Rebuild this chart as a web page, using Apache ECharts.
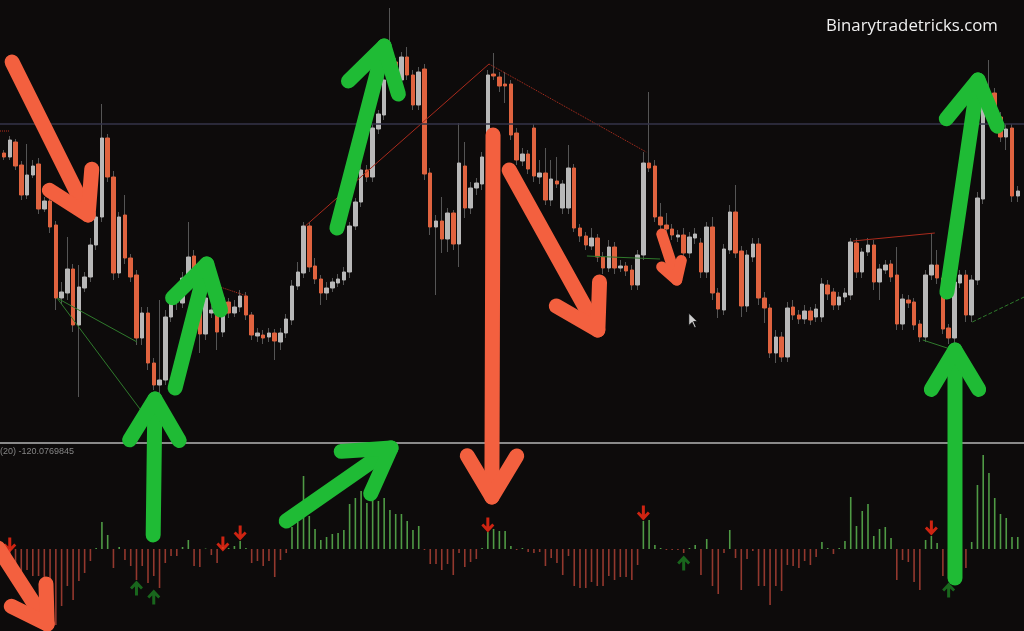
<!DOCTYPE html>
<html><head><meta charset="utf-8">
<script src="https://cdn.jsdelivr.net/npm/echarts@6/dist/echarts.min.js"></script>
<style>html,body{margin:0;padding:0;background:#0d0b0b;}#c{width:1024px;height:631px;}</style>
</head><body><div id="c"></div>
<script>
// OHLC candles: [open, close, low, high]
const candles = [
[297,293,290,300],[293,310,290,314],[308,284,280,311],[285,255,250,289],[255,275,251,306],
[275,284,272,290],[286,241,236,292],[241,249,238,253],[249,223,217,254],[225,152,140,229],
[152,158,146,168],[157,181,150,213],[181,125,118,186],[125,163,53,185],[162,173,158,178],
[173,205,168,212],[205,233,200,238],[233,312,228,346],[312,273,268,316],[273,177,170,279],
[177,233,172,238],[235,192,186,255],[192,173,168,196],[175,112,105,180],[112,137,105,143],
[137,87,80,143],[87,65,60,92],[65,70,57,150],[70,133,65,140],[133,150,128,158],
[148,152,140,158],[147,172,142,178],[172,193,168,228],[194,177,172,200],[177,116,97,180],
[116,152,110,158],[137,140,132,145],[137,118,100,142],[118,152,113,158],[148,137,132,152],
[137,143,133,150],[143,154,138,160],[154,135,130,158],[135,115,110,138],[114,117,108,122],
[115,112,106,120],[113,117,108,122],[117,109,90,121],[108,117,100,122],[117,131,112,136],
[130,164,125,170],[164,178,160,188],[177,224,172,228],[224,183,178,228],[184,171,166,192],
[171,157,145,175],[157,162,150,168],[162,168,158,172],[167,171,163,176],[170,178,165,183],
[178,224,172,228],[224,248,220,252],[248,280,243,288],[280,273,268,285],[273,322,268,326],
[321,336,316,340],[335,370,330,376],[370,388,366,442],[388,370,364,392],[370,393,366,398],
[393,375,370,403],[375,345,340,380],[345,378,340,383],[381,276,270,386],[277,223,215,282],
[223,229,155,235],[229,211,197,253],[211,237,198,242],[237,206,200,240],[206,287,183,327],
[284,242,232,308],[242,262,236,268],[262,267,255,272],[266,293,260,298],[293,375,288,380],
[376,374,370,397],[373,364,358,378],[366,364,347,378],[366,315,310,370],[317,290,285,322],
[289,296,284,302],[296,281,276,300],[322,274,268,326],[273,277,266,290],[277,250,245,302],
[250,271,244,290],[269,266,262,293],[242,266,236,270],[242,282,236,305],[282,222,218,286],
[222,214,208,226],[214,205,200,218],[204,212,200,222],[212,193,188,216],[193,182,176,198],
[182,203,178,210],[203,182,176,208],[182,184,178,190],[184,179,174,188],[180,165,160,185],
[165,195,160,200],[195,287,190,298],[287,282,278,358],[284,233,228,290],[233,225,220,247],
[225,221,216,237],[221,215,210,226],[213,215,208,220],[215,197,192,222],[197,213,192,218],
[212,216,206,222],[207,178,172,212],[178,223,172,228],[223,157,150,233],[157,141,132,162],
[140,201,135,206],[200,238,196,245],[238,197,192,265],[199,144,133,204],[144,195,138,200],
[193,206,188,212],[206,152,145,212],[152,142,127,158],[142,97,92,146],[97,113,87,120],
[113,93,88,118],[93,142,88,148],[143,135,130,150],[135,131,126,140],[131,139,126,145],
[139,130,125,143],[133,141,128,146],[133,166,128,172],[165,156,150,170],[158,145,140,162],
[145,153,140,158],[153,157,148,162],[155,208,150,212],[207,178,172,212],[178,198,172,202],
[198,205,194,212],[205,168,160,210],[168,181,150,186],[180,185,176,190],[186,173,168,190],
[175,126,120,203],[126,151,120,156],[150,147,142,155],[148,125,120,152],[126,113,108,130],
[113,175,108,180],[175,185,170,217],[185,172,166,200],[172,121,116,176],[122,112,106,126],
[112,168,106,174],[167,175,162,180],[175,135,128,180],[135,170,128,175],[170,252,165,258],
[251,357,246,362],[353,357,348,390],[357,333,328,362],[333,313,308,338],[313,321,300,326],
[322,254,248,326],[254,259,248,264]
];
// oscillator histogram, one value per candle
const histogram = [
-8,-10,-14,-27,-21,-27,-27,-37,-51,-76,-57,-37,-51,-32,-24,-12,1,27,14,-19,
2,-11,-17,-31,-17,-34,-27,-39,-14,-7,-7,2,9,-17,-18,0.5,-6,-14,2,1,
3,8,1,-14,-12,-17,-12,-28,-11,-4,22,27,73,33,20,9,12,15,16,19,
45,51,58,46,54,48,51,39,35,35,28,19,23,-1,-15,-15,-21,-15,-26,-4,
-18,-13,-10,1,17,20,18,18,3,-1,1,-3,-4,-3,-17,-9,-14,-26,-7,-37,
-39,-39,-33,-37,-37,-27,-31,-28,-28,-31,-16,28,29,4,1,-1,-1,-1,-4,1,
4,-26,10,-37,-45,-4,19,-9,-41,-10,-2,-37,-37,-56,-37,-42,-16,-17,-19,-12,
-16,-8,7,1,-5,1,8,52,23,38,45,13,20,22,11,-31,-11,-13,-33,-41,
9,13,6,-27,-30,-10,8,-19,7,64,94,76,51,35,31,12,12
];
// indicator signal markers [candle index, histogram value]
const signalsDown = [[1,4],[38,5],[41,16],[84,24],[111,36],[161,21]];
const signalsUp = [[23,-39],[26,-48],[118,-14],[164,-41]];
// drawn trend lines [[x1,p1],[x2,p2]], style
const trendLines = [
  {pts:[[9.2,152],[23.1,108]], color:'#2f7a2c', type:'solid'},
  {pts:[[9.2,152],[24.0,38]], color:'#2f7a2c', type:'solid'},
  {pts:[[52.3,224],[84.2,386]], color:'#a92a1c', type:'solid'},
  {pts:[[84.2,386],[111.5,298]], color:'#b8301f', type:'dotted'},
  {pts:[[37,164],[42.2,154]], color:'#b8301f', type:'dotted'},
  {pts:[[-0.7,319],[0.9,319]], color:'#b8301f', type:'dotted'},
  {pts:[[101.2,194],[113.9,191]], color:'#2f7a2c', type:'solid'},
  {pts:[[147.4,209],[161.6,217]], color:'#a92a1c', type:'solid'},
  {pts:[[159.5,110],[164.8,100]], color:'#2f7a2c', type:'solid'},
  {pts:[[168.1,128],[177.1,153]], color:'#2f7a2c', type:'dashed'}
];
// hand-drawn arrows [tailX, tailP, tipX, tipP, headLen, width, kind]
const bigArrows = [
  [1.4,388,14.6,235,46,15,'down'],
  [29.7,62,35.2,186,48,15,'up'],
  [25.9,-85,26.2,51,48,15,'up'],
  [57.8,222,66.0,404,50,15,'up'],
  [84.9,315,84.7,-47,48,15,'down'],
  [87.7,280,103.1,120,48,15,'down'],
  [114.2,216,116.8,170,20,11,'down'],
  [163.7,158,169.1,370,50,15,'up'],
  [165.1,-128,165.1,100,46,15,'up'],
  [49.0,-71,67.2,2,50,15,'up'],
  [-1.0,-98,7.5,-174,40,15,'down']
];
const levelPrice = 326;
const cursorPos = [118.9,137];
const watermark = 'Binarytradetricks.com';
const indicatorLabel = '(20) -120.0769845';

const cats = candles.map((_, i) => String(i));
const bodies = candles.map(([o, c]) => [o, c, Math.min(o, c), Math.max(o, c)]);
const GREEN = '#1fbb35', ORANGE = '#f3603f';

const chart = echarts.init(document.getElementById('c'), null, {renderer: 'canvas'});
const hidden = {show: false};
chart.setOption({
  backgroundColor: '#0d0b0b',
  animation: false,
  title: [
    {text: watermark, left: 826, top: 18, padding: 0,
     textStyle: {color: '#f0f0f0', fontSize: 16.8, fontWeight: 'normal', fontFamily: 'Open Sans'}},
    {text: indicatorLabel, left: 0, top: 447, padding: 0,
     textStyle: {color: '#858585', fontSize: 9, fontWeight: 'normal', fontFamily: 'Liberation Sans'}}
  ],
  grid: [
    {left: 1.12, right: 3.36, top: 0, bottom: 188},
    {left: 1.12, right: 3.36, top: 445, bottom: 0},
    {left: 0, right: 0, top: 0, bottom: 188}
  ],
  xAxis: [
    {type: 'category', data: cats, gridIndex: 0, axisLine: hidden, axisTick: hidden, axisLabel: hidden, splitLine: hidden},
    {type: 'category', data: cats, gridIndex: 1, axisLine: hidden, axisTick: hidden, axisLabel: hidden, splitLine: hidden},
    {type: 'value', gridIndex: 2, min: -0.694, max: 177.08,
     axisLine: {show: true, onZero: false, lineStyle: {color: '#8a8a8a', width: 2}},
     axisTick: hidden, axisLabel: hidden, splitLine: hidden}
  ],
  yAxis: [
    {type: 'value', gridIndex: 0, min: 7, max: 450, show: false},
    {type: 'value', gridIndex: 1, min: -82, max: 104, show: false},
    {type: 'value', gridIndex: 2, min: 7, max: 450, show: false}
  ],
  series: [
    {type: 'line', xAxisIndex: 2, yAxisIndex: 2, data: [], symbol: 'none',
     markLine: {silent: true, symbol: 'none', label: {show: false},
       lineStyle: {color: '#34344a', width: 1.5, type: 'solid'}, data: [{yAxis: levelPrice}]}},
    {type: 'candlestick', xAxisIndex: 0, yAxisIndex: 0, data: candles, barWidth: 1,
     itemStyle: {color: '#555', color0: '#555', borderColor: '#555', borderColor0: '#555', borderWidth: 1}},
    {type: 'candlestick', xAxisIndex: 0, yAxisIndex: 0, data: bodies, barWidth: 4,
     itemStyle: {color: '#b8b8b8', color0: '#e0633f', borderColor: '#b8b8b8', borderColor0: '#e0633f', borderWidth: 1}},
    ...trendLines.map(t => ({type: 'line', xAxisIndex: 2, yAxisIndex: 2, data: t.pts, symbol: 'none',
      lineStyle: {color: t.color, width: 1, type: t.type}, z: 3})),
    {type: 'bar', xAxisIndex: 1, yAxisIndex: 1, data: histogram, barWidth: 1.6,
     itemStyle: {color: p => p.value >= 0 ? '#4f9a45' : '#93382e'}},
    {type: 'scatter', xAxisIndex: 1, yAxisIndex: 1, data: signalsDown.map(([i, v]) => [String(i), v]),
     symbol: 'path://M5,0 L8,0 L8,8.5 L11,5.5 L13,7.5 L6.5,14 L0,7.5 L2,5.5 L5,8.5 Z', symbolSize: [13, 15],
     itemStyle: {color: '#ff2a14'}, z: 5},
    {type: 'scatter', xAxisIndex: 1, yAxisIndex: 1, data: signalsUp.map(([i, v]) => [String(i), v]),
     symbol: 'path://M5,14 L8,14 L8,5.5 L11,8.5 L13,6.5 L6.5,0 L0,6.5 L2,8.5 L5,5.5 Z', symbolSize: [13, 15],
     itemStyle: {color: '#1d7d22'}, z: 5},
    {type: 'scatter', xAxisIndex: 2, yAxisIndex: 2, data: [cursorPos],
     symbol: 'path://M0,0 L0,16 L4,12 L7,19 L9,18 L6,11 L11,11 Z', symbolSize: [9, 15], symbolOffset: [4.5, 7.5],
     itemStyle: {color: '#ffffff', borderColor: '#000', borderWidth: 1}, z: 6},
    {type: 'custom', xAxisIndex: 2, yAxisIndex: 2, clip: false, z: 10,
     data: bigArrows.map(a => ({value: a.slice(0, 6), itemStyle: {color: a[6] === 'up' ? GREEN : ORANGE}})),
     renderItem: (params, api) => {
       const a = api.coord([api.value(0), api.value(1)]);
       const b = api.coord([api.value(2), api.value(3)]);
       const L = api.value(4), w = api.value(5);
       const ang = Math.atan2(a[1] - b[1], a[0] - b[0]);
       const sp = 31 * Math.PI / 180;
       const w1 = [b[0] + L * Math.cos(ang + sp), b[1] + L * Math.sin(ang + sp)];
       const w2 = [b[0] + L * Math.cos(ang - sp), b[1] + L * Math.sin(ang - sp)];
       const color = api.visual('color');
       const st = {stroke: color, lineWidth: w, lineCap: 'round', lineJoin: 'round', fill: null};
       return {type: 'group', children: [
         {type: 'polyline', shape: {points: [a, b]}, style: st},
         {type: 'polyline', shape: {points: [w1, b, w2]}, style: st}
       ]};
     }}
  ]
});
</script></body></html>
